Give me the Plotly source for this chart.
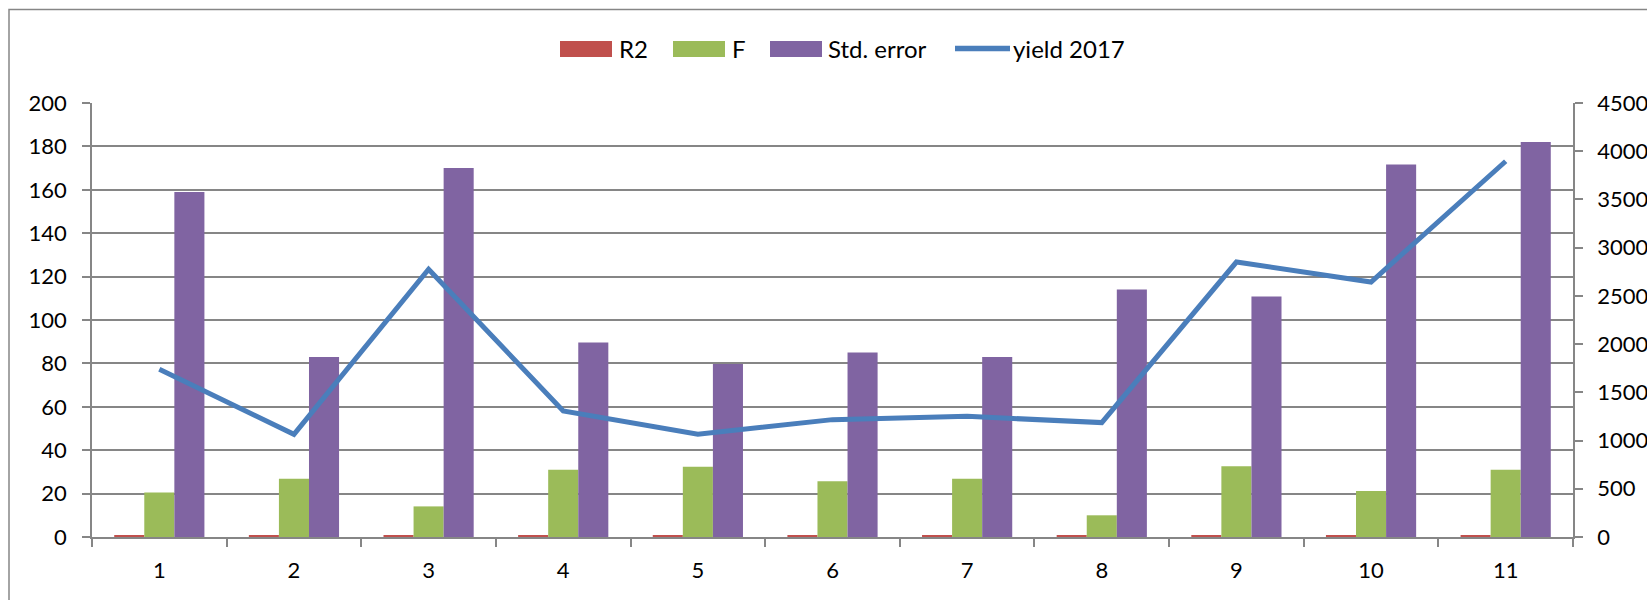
import plotly.graph_objects as go

categories = ["1", "2", "3", "4", "5", "6", "7", "8", "9", "10", "11"]
r2 = [0.8, 0.7, 0.6, 0.9, 0.7, 0.7, 0.6, 0.5, 0.8, 0.7, 0.9]
f_values = [20.5, 26.9, 14.1, 31.0, 32.4, 25.7, 26.9, 10.0, 32.6, 21.2, 31.0]
std_error = [159.0, 83.0, 170.0, 89.6, 79.7, 85.0, 83.0, 114.0, 110.8, 171.7, 182.0]
yield_2017 = [1739, 1065, 2776, 1306, 1065, 1217, 1251, 1186, 2851, 2644, 3896]

series_names = ["R2", "F", "Std. error", "yield 2017"]
series_colors = ["#c0504d", "#9bbb59", "#8064a2", "#4a7ebb"]

W, H = 1647, 600
L, R, T, B = 92, 74, 103, 63
FONT = "Lato"
GRID = "#868686"

def px_x(p):
    return (p - L) / (W - L - R)

def px_y(p):
    return (H - B - p) / (H - T - B)

fig = go.Figure()
for name, vals, col in zip(series_names[:3], [r2, f_values, std_error], series_colors[:3]):
    fig.add_trace(go.Bar(x=categories, y=vals, name=name, marker=dict(color=col, line=dict(width=0))))
fig.add_trace(go.Scatter(x=categories, y=yield_2017, name=series_names[3], mode="lines",
                         line=dict(color=series_colors[3], width=5), yaxis="y2"))

# custom legend (wide swatches like the reference)
shapes = []
annotations = []
legend_items = [(560, 612, 617), (673, 725, 730), (770, 822, 826), (955, 1010, 1011)]
for i, (sx0, sx1, tx) in enumerate(legend_items):
    if i < 3:
        shapes.append(dict(type="rect", xref="paper", yref="paper", x0=px_x(sx0), x1=px_x(sx1),
                           y0=px_y(57), y1=px_y(41), fillcolor=series_colors[i], line=dict(width=0)))
    else:
        shapes.append(dict(type="line", xref="paper", yref="paper", x0=px_x(sx0), x1=px_x(sx1),
                           y0=px_y(48.5), y1=px_y(48.5), line=dict(color=series_colors[i], width=5.5)))
    annotations.append(dict(text=series_names[i], xref="paper", yref="paper", x=px_x(tx), y=px_y(49),
                            xanchor="left", yanchor="middle", showarrow=False,
                            font=dict(family=FONT, size=24, color="#000000")))

shapes.append(dict(type="rect", xref="paper", yref="paper",
                   x0=px_x(9), x1=px_x(W + 20), y0=px_y(H + 20), y1=px_y(9.5),
                   line=dict(color=GRID, width=1.5), fillcolor="rgba(0,0,0,0)", layer="below"))

fig.update_layout(
    width=W, height=H,
    margin=dict(l=L, r=R, t=T, b=B, autoexpand=False),
    paper_bgcolor="white", plot_bgcolor="white",
    font=dict(family=FONT, size=22, color="#000000"),
    barmode="group", bargap=0.33, bargroupgap=0,
    showlegend=False,
    xaxis=dict(type="category", tickson="boundaries", ticks="outside", ticklen=8, tickwidth=1.5,
               tickcolor=GRID, showline=True, linecolor=GRID, linewidth=1.5, showgrid=False,
               tickfont=dict(size=22), ticklabelstandoff=13),
    yaxis=dict(range=[0, 200], dtick=20, ticks="outside", ticklen=8, tickwidth=1.5, tickcolor=GRID,
               showline=True, linecolor=GRID, linewidth=1.5, showgrid=True, gridcolor=GRID,
               gridwidth=1.5, zeroline=False, tickfont=dict(size=22), ticklabelstandoff=11),
    yaxis2=dict(range=[0, 4500], dtick=500, overlaying="y", side="right", ticks="outside", ticklen=8,
                tickwidth=1.5, tickcolor=GRID, showline=True, linecolor=GRID, linewidth=1.5,
                showgrid=False, zeroline=False, tickfont=dict(size=22), ticklabelstandoff=10),
    shapes=shapes,
    annotations=annotations,
)

fig.write_html("out.html", config={"displayModeBar": False},
               post_script="document.body.style.margin='0px';")
